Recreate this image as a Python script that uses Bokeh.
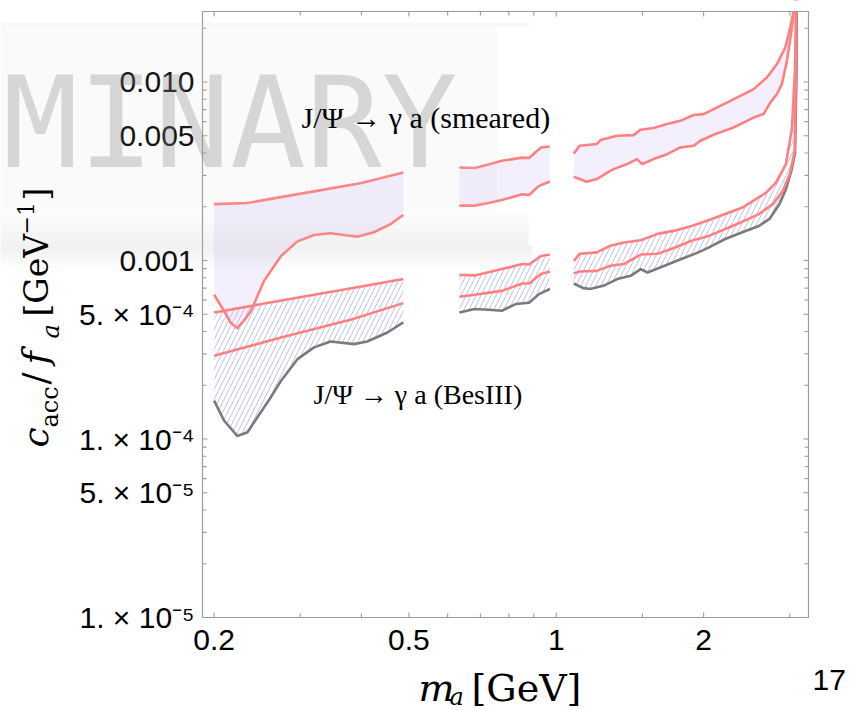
import math
from bokeh.plotting import figure
from bokeh.models import Label, BoxAnnotation, Range1d
from bokeh.core.properties import value
from bokeh.embed import file_html
from bokeh.resources import INLINE

# ---------------- data (m_a in GeV, c_acc/f_a in GeV^-1) ----------------
# segment 1
sm_hi_x1 = [0.2, 0.234, 0.27, 0.32, 0.4, 0.487]
sm_hi_y1 = [2.07e-3, 2.10e-3, 2.25e-3, 2.44e-3, 2.72e-3, 3.11e-3]
sm_lo_x1 = [0.2, 0.2095, 0.216, 0.223, 0.230, 0.238, 0.253, 0.274, 0.296, 0.32, 0.346, 0.375, 0.392, 0.424, 0.459, 0.487]
sm_lo_y1 = [6.43e-4, 5.23e-4, 4.5e-4, 4.18e-4, 4.6e-4, 5.23e-4, 7.7e-4, 1.06e-3, 1.28e-3, 1.39e-3, 1.42e-3, 1.38e-3, 1.36e-3, 1.44e-3, 1.60e-3, 1.80e-3]
bes_hi_x1 = [0.2, 0.25, 0.32, 0.4, 0.487]
bes_hi_y1 = [5.11e-4, 5.7e-4, 6.43e-4, 7.15e-4, 7.87e-4]
mid_x1 = [0.2, 0.274, 0.38, 0.487]
mid_y1 = [2.93e-4, 3.7e-4, 4.65e-4, 5.77e-4]
gray_x1 = [0.2, 0.2095, 0.223, 0.234, 0.245, 0.261, 0.274, 0.296, 0.32, 0.346, 0.386, 0.411, 0.452, 0.487]
gray_y1 = [1.64e-4, 1.27e-4, 1.04e-4, 1.09e-4, 1.32e-4, 1.71e-4, 2.12e-4, 2.8e-4, 3.26e-4, 3.52e-4, 3.4e-4, 3.52e-4, 3.95e-4, 4.5e-4]

# segment 2
sm_hi_x2 = [0.634, 0.681, 0.727, 0.774, 0.852, 0.880, 0.930, 0.970]
sm_hi_y2 = [3.32e-3, 3.30e-3, 3.45e-3, 3.62e-3, 3.77e-3, 3.75e-3, 4.30e-3, 4.35e-3]
sm_lo_x2 = [0.634, 0.681, 0.727, 0.774, 0.852, 0.880, 0.922, 0.970]
sm_lo_y2 = [2.03e-3, 2.03e-3, 2.10e-3, 2.18e-3, 2.35e-3, 2.33e-3, 2.62e-3, 2.77e-3]
bes_hi_x2 = [0.634, 0.681, 0.727, 0.774, 0.852, 0.880, 0.930, 0.970]
bes_hi_y2 = [8.3e-4, 8.25e-4, 8.6e-4, 8.95e-4, 9.55e-4, 9.5e-4, 1.06e-3, 1.08e-3]
mid_x2 = [0.634, 0.681, 0.774, 0.852, 0.880, 0.930, 0.970]
mid_y2 = [6.26e-4, 6.43e-4, 6.76e-4, 7.43e-4, 7.43e-4, 8.4e-4, 8.68e-4]
gray_x2 = [0.634, 0.681, 0.727, 0.774, 0.826, 0.880, 0.922, 0.970]
gray_y2 = [5.11e-4, 5.35e-4, 5.3e-4, 5.23e-4, 5.7e-4, 5.8e-4, 6.48e-4, 6.92e-4]

# segment 3
sm_hi_x3 = [1.086, 1.116, 1.21, 1.231, 1.332, 1.439, 1.486, 1.581, 1.684, 1.793, 1.908, 2.0, 2.096, 2.232, 2.377, 2.53, 2.694, 2.824, 2.936, 3.006, 3.054, 3.07]
sm_hi_y3 = [3.97e-3, 4.39e-3, 4.49e-3, 4.73e-3, 5.0e-3, 5.04e-3, 5.40e-3, 5.52e-3, 5.81e-3, 6.06e-3, 6.53e-3, 6.61e-3, 7.05e-3, 7.67e-3, 8.37e-3, 9.12e-3, 1.06e-2, 1.26e-2, 1.56e-2, 2.02e-2, 2.5e-2, 3.0e-2]
sm_lo_x3 = [1.086, 1.116, 1.153, 1.21, 1.289, 1.31, 1.396, 1.462, 1.497, 1.581, 1.684, 1.793, 1.908, 1.97, 2.096, 2.302, 2.377, 2.53, 2.652, 2.736, 2.824, 2.89, 2.96, 3.03, 3.062, 3.075]
sm_lo_y3 = [2.94e-3, 2.86e-3, 2.76e-3, 2.86e-3, 3.18e-3, 3.25e-3, 3.47e-3, 3.70e-3, 3.47e-3, 3.70e-3, 3.94e-3, 4.30e-3, 4.39e-3, 4.69e-3, 5.06e-3, 5.56e-3, 5.81e-3, 6.32e-3, 6.61e-3, 7.67e-3, 8.55e-3, 9.73e-3, 1.315e-2, 2.02e-2, 2.6e-2, 3.0e-2]
bes_hi_x3 = [1.086, 1.116, 1.21, 1.289, 1.374, 1.488, 1.61, 1.744, 1.89, 2.046, 2.214, 2.40, 2.558, 2.684, 2.81, 2.946, 3.03, 3.075, 3.09]
bes_hi_y3 = [9.96e-4, 1.09e-3, 1.11e-3, 1.21e-3, 1.26e-3, 1.30e-3, 1.41e-3, 1.47e-3, 1.56e-3, 1.68e-3, 1.82e-3, 1.98e-3, 2.21e-3, 2.40e-3, 2.73e-3, 3.47e-3, 5.5e-3, 1.2e-2, 3.0e-2]
mid_x3 = [1.086, 1.116, 1.21, 1.289, 1.374, 1.488, 1.61, 1.744, 1.89, 2.046, 2.214, 2.40, 2.594, 2.77, 2.904, 3.0, 3.07, 3.085, 3.095]
mid_y3 = [8.46e-4, 8.68e-4, 8.75e-4, 9.34e-4, 9.55e-4, 1.08e-3, 1.09e-3, 1.18e-3, 1.29e-3, 1.37e-3, 1.50e-3, 1.65e-3, 1.82e-3, 2.07e-3, 2.46e-3, 3.05e-3, 4.12e-3, 1.0e-2, 3.0e-2]
gray_x3 = [1.086, 1.135, 1.172, 1.248, 1.332, 1.419, 1.488, 1.536, 1.664, 1.801, 1.951, 2.046, 2.214, 2.40, 2.594, 2.726, 2.858, 2.946, 3.022, 3.075, 3.095, 3.10]
gray_y3 = [7.43e-4, 7.0e-4, 6.92e-4, 7.21e-4, 7.87e-4, 8.21e-4, 8.95e-4, 8.57e-4, 9.34e-4, 1.02e-3, 1.11e-3, 1.18e-3, 1.32e-3, 1.44e-3, 1.56e-3, 1.71e-3, 2.07e-3, 2.51e-3, 3.18e-3, 4.0e-3, 1.1e-2, 3.0e-2]

x_major = [0.2, 0.5, 1.0, 2.0]
x_major_labels = ["0.2", "0.5", "1", "2"]
x_minor = [0.3, 0.4, 0.6, 0.7, 0.8, 0.9, 1.5, 3.0]
y_major = [1e-5, 5e-5, 1e-4, 5e-4, 1e-3, 5e-3, 1e-2]
y_major_labels = ["1. × 10⁻⁵", "5. × 10⁻⁵", "1. × 10⁻⁴", "5. × 10⁻⁴", "0.001", "0.005", "0.010"]
y_minor = [2e-5, 3e-5, 4e-5, 6e-5, 7e-5, 8e-5, 9e-5,
           2e-4, 3e-4, 4e-4, 6e-4, 7e-4, 8e-4, 9e-4,
           2e-3, 3e-3, 4e-3, 6e-3, 7e-3, 8e-3, 9e-3, 2e-2]

segments = [
    (sm_hi_x1, sm_hi_y1, sm_lo_x1, sm_lo_y1, bes_hi_x1, bes_hi_y1, mid_x1, mid_y1, gray_x1, gray_y1),
    (sm_hi_x2, sm_hi_y2, sm_lo_x2, sm_lo_y2, bes_hi_x2, bes_hi_y2, mid_x2, mid_y2, gray_x2, gray_y2),
    (sm_hi_x3, sm_hi_y3, sm_lo_x3, sm_lo_y3, bes_hi_x3, bes_hi_y3, mid_x3, mid_y3, gray_x3, gray_y3),
]

# ---------------- layout geometry ----------------
X0, X1 = 0.18937, 3.2756      # plot box x range
Y0, Y1 = 1e-5, 0.02483        # plot box y range
W, H = 860, 710
FL, FR, FT, FB = 202, 808, 11, 617   # plot box in canvas pixels


def xd(px):
    return 10 ** (math.log10(X0) + (px - FL) / (FR - FL) * (math.log10(X1) - math.log10(X0)))


def yd(py):
    return 10 ** (math.log10(Y0) + (FB - py) / (FB - FT) * (math.log10(Y1) - math.log10(Y0)))


# the bokeh frame covers the whole canvas; the plot box is drawn inside it
p = figure(width=W, height=H, x_axis_type="log", y_axis_type="log",
           x_range=Range1d(xd(0), xd(W)), y_range=Range1d(yd(H), yd(0)),
           x_axis_location=None, y_axis_location=None,
           output_backend="svg", toolbar_location=None, title_location=None,
           min_border=0)
p.grid.visible = False
p.outline_line_color = None
p.background_fill_color = "white"
p.border_fill_color = "white"

RED = "#ff8080"
GRAY = "#7a7a7a"
LAV = "#f4effd"
HATCH = "#c0c0f3"
FRAME = "#9c9c9c"

for (shx, shy, slx, sly, bhx, bhy, mx, my, gx, gy) in segments:
    p.patch(list(shx) + list(slx)[::-1], list(shy) + list(sly)[::-1],
            fill_color=LAV, line_color=None)
    p.patch(list(bhx) + list(gx)[::-1], list(bhy) + list(gy)[::-1],
            fill_color=None, line_color=None, hatch_pattern="/",
            hatch_color=HATCH, hatch_scale=10, hatch_weight=1.0)
    p.line(gx, gy, line_color=GRAY, line_width=2.6, line_join="round")
    p.line(mx, my, line_color=RED, line_width=2.6, line_join="round")
    p.line(bhx, bhy, line_color=RED, line_width=2.6, line_join="round")
    p.line(slx, sly, line_color=RED, line_width=2.6, line_join="round")
    p.line(shx, shy, line_color=RED, line_width=2.6, line_join="round")

# clip what rises above the plot box
p.quad(left=[xd(FL - 2)], right=[xd(FR + 2)], bottom=[Y1], top=[yd(-5)],
       fill_color="white", line_color=None)

# plot box
p.quad(left=[X0], right=[X1], bottom=[Y0], top=[Y1],
       fill_color=None, line_color=FRAME, line_width=1.2)


# ticks (inward on all four sides)
def ticks(vals, length, horizontal):
    n = len(vals)
    if horizontal:
        p.segment(x0=vals, y0=[Y0] * n, x1=vals, y1=[yd(FB - length)] * n,
                  line_color=FRAME, line_width=1.1)
        p.segment(x0=vals, y0=[Y1] * n, x1=vals, y1=[yd(FT + length)] * n,
                  line_color=FRAME, line_width=1.1)
    else:
        p.segment(x0=[X0] * n, y0=vals, x1=[xd(FL + length)] * n, y1=vals,
                  line_color=FRAME, line_width=1.1)
        p.segment(x0=[X1] * n, y0=vals, x1=[xd(FR - length)] * n, y1=vals,
                  line_color=FRAME, line_width=1.1)


ticks(x_major, 5, True)
ticks(x_minor, 4, True)
ticks(y_major, 5, False)
ticks(y_minor, 4, False)

# tick labels
p.text(x=x_major, y=[yd(639)] * len(x_major), text=x_major_labels,
       text_align="center", text_baseline="middle",
       text_font=value("Liberation Sans"), text_font_size="30px", text_color="black")
p.text(x=[xd(194)] * len(y_major), y=y_major, text=y_major_labels,
       text_align="right", text_baseline="middle",
       text_font=value("Liberation Sans"), text_font_size="30px", text_color="black")


def lab(px, py, text, size, font="DejaVu Serif", style="normal", angle=0.0,
        color="black", alpha=1.0, align="left"):
    # (px, py): anchor at the middle of the text line, in canvas pixels
    p.add_layout(Label(x=xd(px), y=yd(py), text=text, text_font=font,
                       text_font_size=f"{size}px", text_font_style=style,
                       angle=angle, text_color=color, text_alpha=alpha,
                       text_align=align, text_baseline="middle"))


def box(x0, x1, y0, y1, color, alpha):
    p.add_layout(BoxAnnotation(left=xd(x0), right=xd(x1), top=yd(y0), bottom=yd(y1),
                               fill_color=color, fill_alpha=alpha, line_color=None))


# watermark overlay box + shadow
box(0, 496, 26, 211, "#d0d0d0", 0.10)
box(0, 530, 22, 26, "#c8c8c8", 0.12)
for i in range(8):
    y_top = 211 + i * 34 / 8
    box(0, 528, y_top, y_top + 34 / 8, "#b8b8b8", 0.04 + 0.02 * i)
for i in range(8):
    y_top = 245 + i * 3
    box(0, 532, y_top, y_top + 3, "#b0b0b0", 0.18 * (1 - i / 8))
lab(2, 123, "MINARY", 126, font="DejaVu Sans Mono", color="#808080", alpha=0.29)

# in-plot annotations
lab(301, 117, "J/Ψ → γ a (smeared)", 30, font="Liberation Serif")
lab(313, 394, "J/Ψ → γ a (BesIII)", 28, font="Liberation Serif")

# x axis label
lab(418, 687, "m", 38, style="italic")
lab(449, 696, "a", 24, style="italic")
lab(471, 687, "[GeV]", 38)

# y axis label (rotated)
A = math.pi / 2
lab(34.5, 447, "c", 36, style="italic", angle=A)
lab(49.7, 427, "acc", 24, angle=A)
lab(34.5, 384, "/", 36, angle=A)
lab(34.5, 364, "f", 36, style="italic", angle=A)
lab(50.7, 338, "a", 24, style="italic", angle=A)
lab(35.5, 316, "[GeV", 33, angle=A)
lab(25.4, 234, "−1", 22, angle=A)
lab(35.5, 200, "]", 33, angle=A)

# page number
lab(812, 679, "17", 30, font="Liberation Sans")

open("out.html", "w").write(file_html(p, INLINE))
